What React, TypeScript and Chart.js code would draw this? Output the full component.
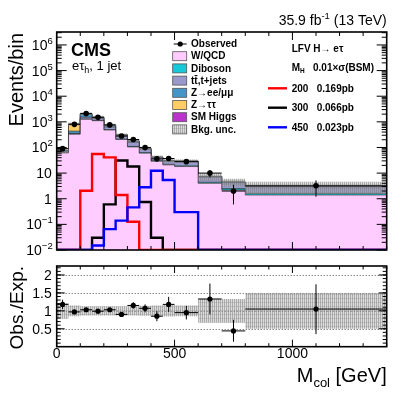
import React, { useEffect, useRef } from "react";
import { Chart, registerables } from "chart.js";
Chart.register(...registerables);

// ---------------- data ----------------
const binEdges = [0, 50, 100, 150, 200, 250, 300, 350, 400, 450, 500, 600, 700, 800, 1400];
const wqcd = [62, 330, 1260, 1110, 482, 205, 105, 60, 29, 21, 18, 4.0, 2.2, 1.4];
const diboson = [0.5, 4, 20, 15, 12, 7, 5, 3, 1.5, 1, 1.2, 0.4, 0.3, 0.2];
const ttJets = [2, 20, 230, 200, 140, 70, 50, 22, 9, 7, 8.5, 2.6, 1.7, 1.3];
const zee = [8, 80, 480, 170, 95, 27, 17, 7, 2.3, 1.8, 1.6, 0.4, 0.25, 0.12];
const ztt = [3, 385, 45, 18, 8, 2, 1, 0.5, 0.2, 0.15, 0.1, 0.05, 0.03, 0.02];
const smHiggs = [0.5, 6, 5, 2, 1, 0.5, 0.3, 0.2, 0.1, 0.1, 0.1, 0.05, 0.02, 0.01];
const bkgRelUnc = [0.22, 0.15, 0.13, 0.13, 0.13, 0.13, 0.13, 0.14, 0.15, 0.16, 0.15, 0.33, 0.33, 0.5];
const observed = [90, 800, 2100, 1500, 760, 280, 205, 99, 36, 37, 28, 10, 2, 3.2];
const observedErrUp = [9.5, 28, 46, 39, 28, 17, 14, 10, 6, 6, 5.3, 3.2, 1.5, 2.0];
const observedErrDown = [9.5, 28, 46, 39, 28, 17, 14, 10, 6, 6, 5.3, 3.2, 1.4, 2.0];
const signal200 = [0, 0, 2.06, 56, 41, 1.4, 0.127, 0, 0, 0, 0, 0, 0, 0];
const signal300 = [0, 0, 0, 0.03, 0.6, 31, 18, 0.75, 0.03, 0, 0, 0, 0, 0];
const signal450 = [0, 0, 0, 0.015, 0.065, 0.14, 0.46, 2.8, 12.4, 5.4, 0.3, 0, 0, 0];
const ratioValues = [1.18, 0.97, 1.03, 0.99, 1.03, 0.9, 1.15, 1.07, 0.85, 1.18, 0.95, 1.33, 0.44, 1.05];
const ratioErrUp = [0.13, 0.04, 0.03, 0.03, 0.04, 0.06, 0.09, 0.11, 0.14, 0.21, 0.19, 0.43, 0.31, 0.69];
const ratioErrDown = [0.13, 0.04, 0.03, 0.03, 0.04, 0.06, 0.09, 0.11, 0.14, 0.21, 0.19, 0.43, 0.3, 0.7];
const yDecades = [-2, -1, 0, 1, 2, 3, 4, 5, 6];
const xTickValues = [0, 500, 1000];
const ratioTickValues = [0.5, 1, 1.5, 2];

const Y_MIN = 0.01;
const Y_MAX = 3.2e6;
const X_MIN = 0;
const X_MAX = 1400;
const R_MIN = 0;
const R_MAX = 2.25;

const FONT = '"Liberation Sans", Arial, Helvetica, sans-serif';

const stackComponents = [
  { label: "W/QCD", values: wqcd, color: "#ffccff" },
  { label: "Diboson", values: diboson, color: "#16c8d8" },
  { label: "tt\u0304,t+jets", values: ttJets, color: "#9999cc" },
  { label: "Z\u2192ee/\u03bc\u03bc", values: zee, color: "#4496c8" },
  { label: "Z\u2192\u03c4\u03c4", values: ztt, color: "#ffcc66" },
  { label: "SM Higgs", values: smHiggs, color: "#bb33cc" },
];

const signals = [
  { mass: "200", xs: "0.169pb", values: signal200, color: "#ff0000" },
  { mass: "300", xs: "0.066pb", values: signal300, color: "#000000" },
  { mass: "450", xs: "0.023pb", values: signal450, color: "#0000ff" },
];

// ---------------- helpers ----------------
function stepData(values: number[], floor: number) {
  const pts = values.map((v, i) => ({ x: binEdges[i], y: v > floor ? v : floor }));
  pts.push({ x: binEdges[binEdges.length - 1], y: pts[pts.length - 1].y });
  return pts;
}

function makeHatch(): any {
  const c = document.createElement("canvas");
  c.width = 4;
  c.height = 4;
  const g = c.getContext("2d");
  if (!g) return "rgba(128,128,128,0.5)";
  g.fillStyle = "rgba(175,175,175,0.42)";
  g.fillRect(0, 0, 4, 4);
  g.fillStyle = "rgba(110,110,110,0.45)";
  g.fillRect(0, 0, 1, 4);
  g.fillRect(2, 0, 1, 4);
  g.fillStyle = "rgba(130,130,130,0.25)";
  g.fillRect(0, 0, 4, 1);
  return g.createPattern(c, "repeat") || "rgba(128,128,128,0.5)";
}

type Part = { t: string; size: number; dy?: number; w?: string };
function drawParts(ctx: CanvasRenderingContext2D, parts: Part[], x: number, y: number, align: "left" | "right" | "center") {
  let total = 0;
  const widths: number[] = [];
  for (const p of parts) {
    ctx.font = `${p.w || "normal"} ${p.size}px ${FONT}`;
    const w = ctx.measureText(p.t).width;
    widths.push(w);
    total += w;
  }
  let cx = align === "right" ? x - total : align === "center" ? x - total / 2 : x;
  ctx.textAlign = "left";
  parts.forEach((p, i) => {
    ctx.font = `${p.w || "normal"} ${p.size}px ${FONT}`;
    ctx.fillText(p.t, cx, y + (p.dy || 0));
    cx += widths[i];
  });
}

function drawFrame(chart: any, yMajor: number[], yMinor: number[], yMajLen: number, yMinLen: number, xMajLen: number, xMinLen: number) {
  const { ctx, chartArea: a, scales } = chart;
  const x = scales.x;
  const y = scales.y;
  ctx.save();
  ctx.strokeStyle = "#000";
  ctx.lineWidth = 1;
  ctx.beginPath();
  const xMinor: number[] = [];
  for (let v = X_MIN; v <= X_MAX; v += 100) xMinor.push(v);
  for (const v of xMinor) {
    const L = xTickValues.includes(v) ? xMajLen : xMinLen;
    const px = x.getPixelForValue(v);
    ctx.moveTo(px, a.bottom);
    ctx.lineTo(px, a.bottom - L);
    ctx.moveTo(px, a.top);
    ctx.lineTo(px, a.top + L);
  }
  for (const v of yMinor) {
    const py = y.getPixelForValue(v);
    if (py < a.top || py > a.bottom) continue;
    ctx.moveTo(a.left, py);
    ctx.lineTo(a.left + yMinLen, py);
    ctx.moveTo(a.right, py);
    ctx.lineTo(a.right - yMinLen, py);
  }
  for (const v of yMajor) {
    const py = y.getPixelForValue(v);
    ctx.moveTo(a.left, py);
    ctx.lineTo(a.left + yMajLen, py);
    ctx.moveTo(a.right, py);
    ctx.lineTo(a.right - yMajLen, py);
  }
  ctx.stroke();
  ctx.lineWidth = 1.6;
  ctx.strokeRect(a.left, a.top, a.right - a.left, a.bottom - a.top);
  ctx.restore();
}

function drawErrorBars(chart: any, centers: number[], vals: number[], up: number[], dn: number[], floor: number) {
  const { ctx, chartArea: a, scales } = chart;
  const x = scales.x;
  const y = scales.y;
  ctx.save();
  ctx.beginPath();
  ctx.rect(a.left, a.top, a.right - a.left, a.bottom - a.top);
  ctx.clip();
  ctx.strokeStyle = "#000";
  ctx.lineWidth = 1;
  ctx.beginPath();
  centers.forEach((c, i) => {
    const px = x.getPixelForValue(c);
    const py = y.getPixelForValue(vals[i]);
    const lowV = vals[i] - dn[i];
    const pTop = y.getPixelForValue(vals[i] + up[i]);
    const pBot = lowV > floor ? y.getPixelForValue(lowV) : a.bottom;
    ctx.moveTo(px, pTop);
    ctx.lineTo(px, pBot);
    ctx.moveTo(x.getPixelForValue(binEdges[i]), py);
    ctx.lineTo(x.getPixelForValue(binEdges[i + 1]), py);
  });
  ctx.stroke();
  ctx.restore();
}

const binCenters = binEdges.slice(0, -1).map((e, i) => (e + binEdges[i + 1]) / 2);

// ---------------- component ----------------
export default function App() {
  const upRef = useRef<HTMLCanvasElement>(null);
  const loRef = useRef<HTMLCanvasElement>(null);

  useEffect(() => {
    const hatch = makeHatch();

    // cumulative stack
    let cum = new Array(wqcd.length).fill(0);
    const stackSets = stackComponents.map((c, k) => {
      cum = cum.map((s, i) => s + c.values[i]);
      return {
        type: "line",
        label: c.label,
        data: stepData(cum.slice(), Y_MIN),
        stepped: true,
        fill: k === 0 ? "start" : "-1",
        backgroundColor: c.color,
        borderColor: "rgba(40,40,40,0.85)",
        borderWidth: 0.8,
        pointRadius: 0,
        order: 10,
      };
    });
    const total = cum.slice();
    const uncLo = total.map((t, i) => t * (1 - bkgRelUnc[i]));
    const uncHi = total.map((t, i) => t * (1 + bkgRelUnc[i]));

    const sigSets = [signals[2], signals[0], signals[1]].map((s, k) => ({
      type: "line",
      label: s.mass,
      data: stepData(s.values, Y_MIN),
      stepped: true,
      fill: false,
      borderColor: s.color,
      borderWidth: 2.4,
      pointRadius: 0,
      borderCapStyle: "butt",
      borderJoinStyle: "miter",
      order: 1 + k,
    }));

    const upperDecor = {
      id: "upperDecor",
      afterDatasetsDraw(chart: any) {
        drawErrorBars(chart, binCenters, observed, observedErrUp, observedErrDown, Y_MIN);
      },
      afterDraw(chart: any) {
        const { ctx, chartArea: a, scales } = chart;
        const yMinor: number[] = [];
        for (const p of yDecades) for (let m = 2; m <= 9; m++) if (m * Math.pow(10, p) <= Y_MAX) yMinor.push(m * Math.pow(10, p));
        drawFrame(chart, yDecades.map((p) => Math.pow(10, p)), yMinor, 10, 5, 8, 4);
        ctx.save();
        ctx.fillStyle = "#000";
        ctx.textBaseline = "alphabetic";
        // y tick labels
        for (const p of yDecades) {
          const py = scales.y.getPixelForValue(Math.pow(10, p)) + 5;
          if (p === 0) drawParts(ctx, [{ t: "1", size: 14 }], a.left - 5, py, "right");
          else if (p === 1) drawParts(ctx, [{ t: "10", size: 14 }], a.left - 5, py, "right");
          else
            drawParts(
              ctx,
              [
                { t: "10", size: 14 },
                { t: p < 0 ? "\u2212" + String(-p) : String(p), size: 9.5, dy: -6 },
              ],
              a.left - 4,
              py,
              "right"
            );
        }
        // y title
        ctx.save();
        ctx.translate(23, a.top + 1);
        ctx.rotate(-Math.PI / 2);
        drawParts(ctx, [{ t: "Events/bin", size: 20 }], 0, 0, "right");
        ctx.restore();
        // lumi
        drawParts(
          ctx,
          [
            { t: "35.9 fb", size: 14 },
            { t: "-1", size: 9.5, dy: -6 },
            { t: " (13 TeV)", size: 14 },
          ],
          a.right,
          25,
          "right"
        );
        // CMS label
        drawParts(ctx, [{ t: "CMS", size: 18, w: "bold" }], 71, 56, "left");
        drawParts(
          ctx,
          [
            { t: "e\u03c4", size: 13 },
            { t: "h", size: 9, dy: 3 },
            { t: ", 1 jet", size: 13 },
          ],
          72,
          70,
          "left"
        );
        // left legend
        ctx.textBaseline = "middle";
        const lx = 172.7;
        const tx = 191;
        const rowY = (k: number) => 44 + k * 12.2;
        // observed
        ctx.strokeStyle = "#000";
        ctx.lineWidth = 1;
        ctx.beginPath();
        ctx.moveTo(lx + 1, rowY(0));
        ctx.lineTo(lx + 14, rowY(0));
        ctx.stroke();
        ctx.beginPath();
        ctx.arc(lx + 7.5, rowY(0), 2.6, 0, Math.PI * 2);
        ctx.fill();
        drawParts(ctx, [{ t: "Observed", size: 10, w: "bold" }], tx, rowY(0) + 0.5, "left");
        stackComponents.forEach((c, k) => {
          const yy = rowY(k + 1);
          ctx.fillStyle = c.color;
          ctx.fillRect(lx, yy - 4.5, 14, 9);
          ctx.strokeStyle = "#555";
          ctx.lineWidth = 0.8;
          ctx.strokeRect(lx, yy - 4.5, 14, 9);
          ctx.fillStyle = "#000";
          drawParts(ctx, [{ t: c.label, size: 10, w: "bold" }], tx, yy + 0.5, "left");
        });
        {
          const yy = rowY(7);
          ctx.fillStyle = "#fff";
          ctx.fillRect(lx, yy - 4.5, 14, 9);
          ctx.fillStyle = hatch;
          ctx.fillRect(lx, yy - 4.5, 14, 9);
          ctx.strokeStyle = "#555";
          ctx.strokeRect(lx, yy - 4.5, 14, 9);
          ctx.fillStyle = "#000";
          drawParts(ctx, [{ t: "Bkg. unc.", size: 10, w: "bold" }], tx, yy + 0.5, "left");
        }
        // right legend
        drawParts(ctx, [{ t: "LFV H\u2192 e\u03c4", size: 10, w: "bold" }], 291.7, 49.5, "left");
        drawParts(
          ctx,
          [
            { t: "M", size: 10, w: "bold" },
            { t: "H", size: 6.5, w: "bold", dy: 2.5 },
          ],
          291.7,
          68.5,
          "left"
        );
        drawParts(ctx, [{ t: "0.01\u00d7\u03c3(BSM)", size: 10, w: "bold" }], 313, 68.5, "left");
        signals.forEach((s, k) => {
          const yy = [88.3, 107.7, 127.3][k];
          ctx.strokeStyle = s.color;
          ctx.lineWidth = 2.4;
          ctx.beginPath();
          ctx.moveTo(268, yy);
          ctx.lineTo(287, yy);
          ctx.stroke();
          ctx.fillStyle = "#000";
          drawParts(ctx, [{ t: s.mass, size: 10, w: "bold" }], 291.7, yy + 0.5, "left");
          drawParts(ctx, [{ t: s.xs, size: 10, w: "bold" }], 316.7, yy + 0.5, "left");
        });
        ctx.restore();
      },
    };

    const up = new Chart(upRef.current as HTMLCanvasElement, {
      type: "line",
      data: {
        datasets: [
          ...stackSets,
          {
            type: "line",
            label: "unc lo",
            data: stepData(uncLo, Y_MIN),
            stepped: true,
            fill: false,
            borderWidth: 0,
            pointRadius: 0,
            order: 5,
          },
          {
            type: "line",
            label: "Bkg. unc.",
            data: stepData(uncHi, Y_MIN),
            stepped: true,
            fill: "-1",
            backgroundColor: hatch,
            borderWidth: 0,
            pointRadius: 0,
            order: 5,
          },
          ...sigSets,
          {
            type: "line",
            label: "Observed",
            data: observed.map((v, i) => ({ x: binCenters[i], y: v })),
            showLine: false,
            pointRadius: 2.8,
            pointBackgroundColor: "#000",
            pointBorderWidth: 0,
            order: 0,
          },
        ] as any,
      },
      options: {
        responsive: false,
        animation: false,
        devicePixelRatio: 1,
        events: [],
        layout: { padding: { left: 56.7, right: 20.3, top: 32, bottom: 12 } },
        scales: {
          x: { type: "linear", min: X_MIN, max: X_MAX, display: false },
          y: { type: "logarithmic", min: Y_MIN, max: Y_MAX, display: false },
        },
        plugins: { legend: { display: false }, tooltip: { enabled: false } },
      } as any,
      plugins: [upperDecor],
    });

    // ---------- ratio panel ----------
    const lowerDecor = {
      id: "lowerDecor",
      beforeDatasetsDraw(chart: any) {
        const { ctx, chartArea: a, scales } = chart;
        ctx.save();
        ctx.strokeStyle = "#555";
        ctx.lineWidth = 1;
        ctx.setLineDash([1, 2]);
        for (const v of ratioTickValues) {
          const py = Math.round(scales.y.getPixelForValue(v)) + 0.5;
          ctx.beginPath();
          ctx.moveTo(a.left, py);
          ctx.lineTo(a.right, py);
          ctx.stroke();
        }
        ctx.restore();
      },
      afterDatasetsDraw(chart: any) {
        drawErrorBars(chart, binCenters, ratioValues, ratioErrUp, ratioErrDown, R_MIN);
      },
      afterDraw(chart: any) {
        const { ctx, chartArea: a, scales } = chart;
        const yMinor: number[] = [];
        for (let k = 1; k <= 22; k++) yMinor.push(k / 10);
        drawFrame(chart, ratioTickValues, yMinor, 8, 4, 7, 3.5);
        ctx.save();
        ctx.fillStyle = "#000";
        ctx.textBaseline = "alphabetic";
        for (const v of ratioTickValues) {
          const py = scales.y.getPixelForValue(v) + 5;
          drawParts(ctx, [{ t: String(v), size: 14 }], a.left - 5, py, "right");
        }
        for (const v of xTickValues) {
          drawParts(ctx, [{ t: String(v), size: 14 }], scales.x.getPixelForValue(v), a.bottom + 11, "center");
        }
        drawParts(
          ctx,
          [
            { t: "M", size: 20 },
            { t: "col", size: 13, dy: 5 },
            { t: " [GeV]", size: 20 },
          ],
          a.right,
          a.bottom + 35,
          "right"
        );
        ctx.save();
        ctx.translate(23, a.top);
        ctx.rotate(-Math.PI / 2);
        drawParts(ctx, [{ t: "Obs./Exp.", size: 19 }], 0, 0, "right");
        ctx.restore();
        ctx.restore();
      },
    };

    const lo = new Chart(loRef.current as HTMLCanvasElement, {
      type: "line",
      data: {
        datasets: [
          {
            type: "line",
            label: "band lo",
            data: stepData(bkgRelUnc.map((u) => 1 - u), -1),
            stepped: true,
            fill: false,
            borderWidth: 0,
            pointRadius: 0,
            order: 5,
          },
          {
            type: "line",
            label: "band hi",
            data: stepData(bkgRelUnc.map((u) => 1 + u), -1),
            stepped: true,
            fill: "-1",
            backgroundColor: hatch,
            borderWidth: 0,
            pointRadius: 0,
            order: 5,
          },
          {
            type: "line",
            label: "Obs./Exp.",
            data: ratioValues.map((v, i) => ({ x: binCenters[i], y: v })),
            showLine: false,
            pointRadius: 2.6,
            pointBackgroundColor: "#000",
            pointBorderWidth: 0,
            order: 0,
          },
        ] as any,
      },
      options: {
        responsive: false,
        animation: false,
        devicePixelRatio: 1,
        events: [],
        layout: { padding: { left: 56.7, right: 20.3, top: 2, bottom: 48.3 } },
        scales: {
          x: { type: "linear", min: X_MIN, max: X_MAX, display: false },
          y: { type: "linear", min: R_MIN, max: R_MAX, display: false },
        },
        plugins: { legend: { display: false }, tooltip: { enabled: false } },
      } as any,
      plugins: [lowerDecor],
    });

    return () => {
      up.destroy();
      lo.destroy();
    };
  }, []);

  return (
    <div style={{ position: "fixed", left: 0, top: 0, width: 407, height: 395, background: "#fff" }}>
      <canvas ref={upRef} width={407} height={262} style={{ position: "absolute", left: 0, top: 0, width: 407, height: 262 }} />
      <canvas ref={loRef} width={407} height={133} style={{ position: "absolute", left: 0, top: 262, width: 407, height: 133 }} />
    </div>
  );
}
